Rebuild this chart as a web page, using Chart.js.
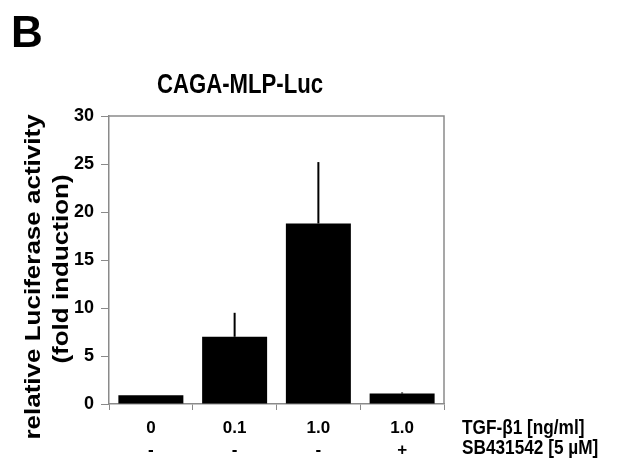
<!DOCTYPE html>
<html>
<head>
<meta charset="utf-8">
<script src="https://cdn.jsdelivr.net/npm/chart.js@4"></script>
<style>
  html, body { margin: 0; padding: 0; background: #fff; }
  #wrap { width: 623px; height: 464px; }
</style>
</head>
<body>
<div id="wrap"><canvas id="myChart" width="623" height="464"></canvas></div>
<script>
// data
var tgfLabels = ["0", "0.1", "1.0", "1.0"];
var sbLabels = ["-", "-", "-", "+"];
var foldValues = [0.9, 7.0, 18.8, 1.1];
var foldErrors = [0, 2.5, 6.4, 0.1];
var yTicks = [0, 5, 10, 15, 20, 25, 30];

var axisGray = '#8a8a8a';
var boldFont = '"Liberation Sans", Arial, sans-serif';

// the source figure is squeezed sideways, so texts get drawn a bit narrow
function squeezedText(ctx, text, x, y, size, align) {
  ctx.save();
  ctx.translate(x, y);
  ctx.scale(0.82, 1);
  ctx.font = 'bold ' + size + 'px ' + boldFont;
  ctx.textAlign = align;
  ctx.fillText(text, 0, 0);
  ctx.restore();
}

// error bars (upper only) + frame + extra texts
var extras = {
  id: 'extras',
  afterDatasetsDraw: function (chart) {
    var ctx = chart.ctx;
    var meta = chart.getDatasetMeta(0);
    var y = chart.scales.y;
    ctx.save();
    ctx.strokeStyle = '#000';
    ctx.lineWidth = 2;
    meta.data.forEach(function (bar, i) {
      if (!foldErrors[i]) return;
      ctx.beginPath();
      ctx.moveTo(bar.x, y.getPixelForValue(foldValues[i]));
      ctx.lineTo(bar.x, y.getPixelForValue(foldValues[i] + foldErrors[i]));
      ctx.stroke();
    });
    ctx.restore();
  },
  afterDraw: function (chart) {
    var ctx = chart.ctx;
    var a = chart.chartArea;
    ctx.save();
    // top and right border of plot box
    ctx.strokeStyle = axisGray;
    ctx.lineWidth = 1.5;
    ctx.beginPath();
    ctx.moveTo(a.left, a.top);
    ctx.lineTo(a.right, a.top);
    ctx.lineTo(a.right, a.bottom);
    ctx.stroke();

    ctx.fillStyle = '#000';
    // panel letter
    ctx.font = 'bold 44px ' + boldFont;
    ctx.textAlign = 'left';
    ctx.textBaseline = 'alphabetic';
    ctx.fillText('B', 11, 47);

    // title
    squeezedText(ctx, 'CAGA-MLP-Luc', 240, 93, 27, 'center');

    // y axis title, two lines
    ctx.save();
    ctx.translate(0, 277);
    ctx.rotate(-Math.PI / 2);
    ctx.scale(1, 0.82);
    ctx.font = 'bold 26px ' + boldFont;
    ctx.textAlign = 'center';
    ctx.textBaseline = 'middle';
    ctx.fillText('relative Luciferase activity', 0, 34 / 0.82);
    ctx.fillText('(fold induction)', 8, 62 / 0.82);
    ctx.restore();

    // row labels right of the x axis
    ctx.textBaseline = 'middle';
    squeezedText(ctx, 'TGF-\u03B21 [ng/ml]', 462, 428, 21, 'left');
    squeezedText(ctx, 'SB431542 [5 \u00B5M]', 462, 448, 21, 'left');
    ctx.restore();
  }
};

var ctx = document.getElementById('myChart').getContext('2d');
var myChart = new Chart(ctx, {
  type: 'bar',
  data: {
    labels: tgfLabels.map(function (t, i) { return [t, sbLabels[i]]; }),
    datasets: [{
      data: foldValues,
      backgroundColor: '#000',
      borderWidth: 0,
      barPercentage: 0.776,
      categoryPercentage: 1
    }]
  },
  options: {
    responsive: false,
    animation: false,
    devicePixelRatio: 1,
    layout: { padding: { top: 116, right: 179, left: 0, bottom: 0 } },
    plugins: {
      legend: { display: false },
      tooltip: { enabled: false }
    },
    scales: {
      x: {
        afterFit: function (s) { s.height = 60; },
        border: { display: true, color: axisGray, width: 1.5 },
        grid: { offset: true, drawOnChartArea: false, drawTicks: true, tickLength: 6, color: axisGray },
        ticks: {
          color: '#000',
          padding: 8,
          maxRotation: 0,
          font: { family: boldFont, size: 17, weight: 'bold', lineHeight: 1.25 }
        }
      },
      y: {
        min: 0,
        max: 30,
        afterFit: function (s) { s.width = 109; },
        afterBuildTicks: function (s) { s.ticks = yTicks.map(function (v) { return { value: v }; }); },
        border: { display: true, color: axisGray, width: 1.5 },
        grid: { drawOnChartArea: false, drawTicks: true, tickLength: 8, color: axisGray },
        ticks: {
          color: '#000',
          padding: 7,
          font: { family: boldFont, size: 18, weight: 'bold' }
        }
      }
    }
  },
  plugins: [extras]
});
</script>
</body>
</html>
